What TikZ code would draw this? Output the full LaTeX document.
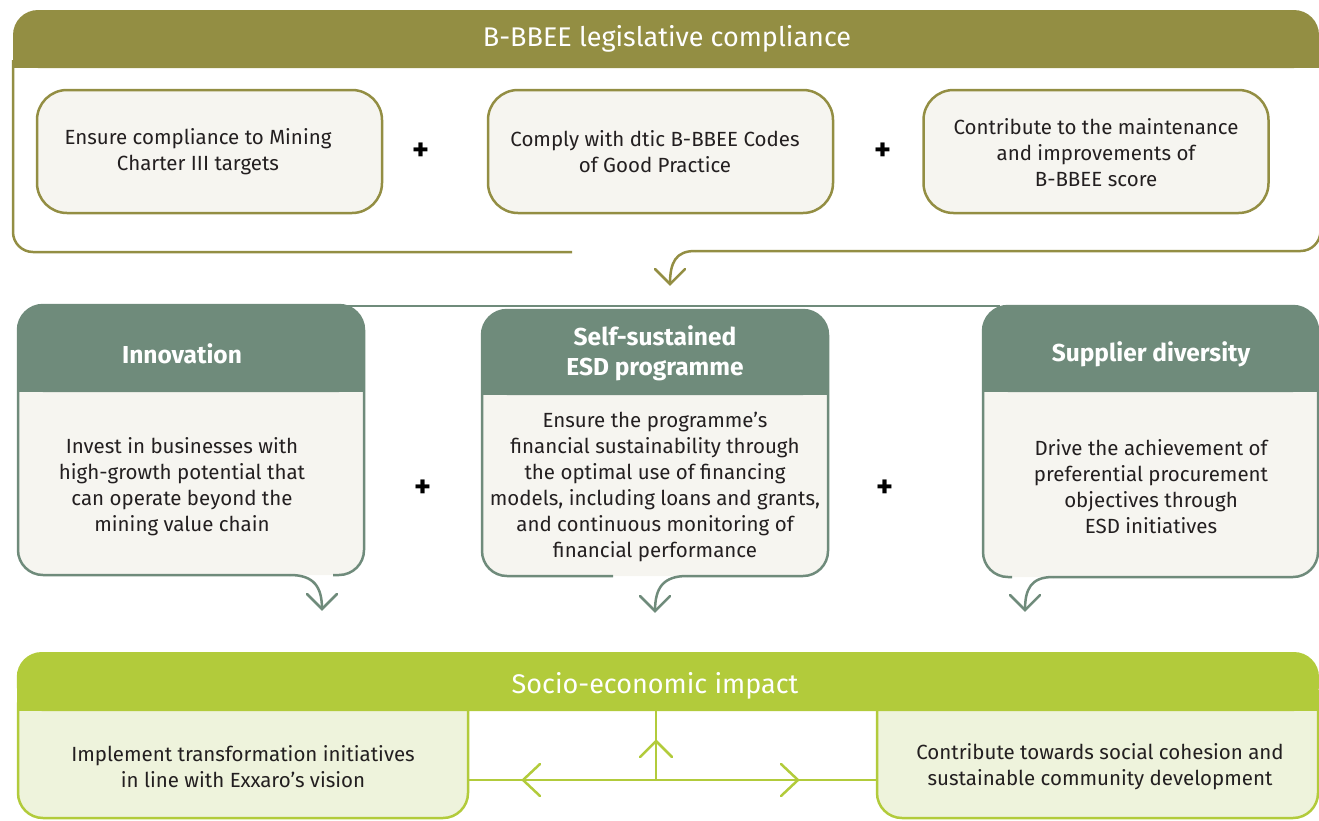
\documentclass[tikz,border=0pt]{standalone}
\usepackage{fontspec}
\setmainfont{Fira Sans}
\definecolor{olive}{HTML}{938E43}
\definecolor{boxfill}{HTML}{F6F5F0}
\definecolor{sage}{HTML}{6F8B7B}
\definecolor{lime}{HTML}{B2CB3B}
\definecolor{limefill}{HTML}{EEF3DC}
\definecolor{ink}{HTML}{231F20}
\begin{document}
\begin{tikzpicture}[x=1pt,y=-1pt,line join=round,
  oliveline/.style={draw=olive,line width=2.5pt},
  sageline/.style={draw=sage,line width=2.5pt},
  limeline/.style={draw=lime,line width=2.5pt},
  chevron/.style={line width=2.5pt,line cap=round,line join=miter},
  body/.style={font=\fontsize{20.5}{26}\selectfont,text=ink,align=center,inner sep=0pt},
  bigtitle/.style={font=\fontsize{27}{30}\selectfont,text=white,align=center,inner sep=0pt},
  midhead/.style={font=\bfseries\fontsize{24.5}{30}\selectfont,text=white,align=center,inner sep=0pt},
  obox/.style={draw=olive,line width=2.5pt,fill=boxfill,rounded corners=30pt,minimum width=345pt,minimum height=123pt,inner sep=0pt},
  plus/.style={font=\bfseries\fontsize{32}{32}\selectfont,text=black,inner sep=0pt}]
\useasboundingbox (0,0) rectangle (1319,820);

% ===== Top section =====
\fill[olive,rounded corners=25pt] (13,10) rectangle (1319,68);
\fill[olive] (13,45) rectangle (1319,68);
\node[bigtitle] (ttop) at (667,39) {B-BBEE legislative compliance};
\coordinate (fl1) at (13,60);
\coordinate (fl2) at (572,252);
\coordinate (fr1) at (1320.5,60);
\coordinate (fr2) at (695,251);
\coordinate (ta) at (670,284);
\draw[oliveline,rounded corners=20pt] (fl1) -- (13,252) -- (fl2);
\draw[oliveline,rounded corners=20pt] (fr1) -- (1320.5,251) -- (fr2);
\draw[oliveline] (fr2) .. controls (676,251) and (670,262) .. (ta);
\draw[olive,chevron] (655,269) -- (ta) -- (685,269);

\node[obox] (c1) at (209.5,151.5) {};
\node[obox] (c2) at (660.5,151.5) {};
\node[obox] (c3) at (1096,151.5) {};
\node[body] (c1t) at (198,152) {Ensure compliance to Mining\\Charter III targets};
\node[body] (c2t) at (655,152) {Comply with dtic B-BBEE Codes\\of Good Practice};
\node[body] (c3t) at (1096,153) {Contribute to the maintenance\\and improvements of\\B-BBEE score};
\node[plus] (p1) at (421,152) {+};
\node[plus] (p2) at (883,152) {+};

% ===== Middle section =====
\coordinate (ml1) at (340,306);
\coordinate (ml2) at (1000,306);
\draw[sageline] (ml1) -- (ml2);

% box 1
\fill[boxfill,rounded corners=25pt] (18,305) rectangle (364,575);
\fill[sage,rounded corners=25pt] (18,305) rectangle (364,392);
\fill[sage] (18,370) rectangle (364,392);
\coordinate (m1a) at (290,575);
\coordinate (m1t) at (322,609);
\draw[sageline,rounded corners=25pt] (m1a) -- (18,575) -- (18,305) -- (364,305) -- (364,575) -- (333,575);
\draw[sageline] (m1a) .. controls (314,575) and (322,587) .. (m1t);
\draw[sage,chevron] (307,594) -- (m1t) -- (337,594);
\node[midhead] (h1) at (182,354) {Innovation};
\node[body] (b1) at (182,487) {Invest in businesses with\\high-growth potential that\\can operate beyond the\\mining value chain};

% box 2
\fill[boxfill,rounded corners=25pt] (482,310) rectangle (828,576);
\fill[sage,rounded corners=25pt] (482,310) rectangle (828,395);
\fill[sage] (482,370) rectangle (828,395);
\coordinate (m2a) at (687,576);
\coordinate (m2t) at (655,611);
\draw[sageline,rounded corners=25pt] (613,576) -- (482,576) -- (482,310) -- (828,310) -- (828,576) -- (m2a);
\draw[sageline] (m2a) .. controls (663,576) and (655,588) .. (m2t);
\draw[sage,chevron] (640,596) -- (m2t) -- (670,596);
\node[midhead] (h2) at (655,353) {Self-sustained\\ESD programme};
\node[body] (b2) at (655,487) {Ensure the programme’s\\financial sustainability through\\the optimal use of financing\\models, including loans and grants,\\and continuous monitoring of\\financial performance};

% box 3
\fill[boxfill,rounded corners=25pt] (983,306) rectangle (1318,577);
\fill[sage,rounded corners=25pt] (983,306) rectangle (1318,392);
\fill[sage] (983,370) rectangle (1318,392);
\coordinate (m3a) at (1053,577);
\coordinate (m3t) at (1025,610);
\draw[sageline,rounded corners=25pt] (1012,577) -- (983,577) -- (983,306) -- (1318,306) -- (1318,577) -- (m3a);
\draw[sageline] (m3a) .. controls (1031,577) and (1025,589) .. (m3t);
\draw[sage,chevron] (1010,595) -- (m3t) -- (1040,595);
\node[midhead] (h3) at (1151,354) {Supplier diversity};
\node[body] (b3) at (1151,487) {Drive the achievement of\\preferential procurement\\objectives through\\ESD initiatives};

\node[plus] (p3) at (423,489) {+};
\node[plus] (p4) at (885,489) {+};

% ===== Bottom section =====
\filldraw[limeline,fill=limefill,rounded corners=25pt] (18,680) rectangle (468,818);
\filldraw[limeline,fill=limefill,rounded corners=25pt] (877,680) rectangle (1318,818);
\fill[lime,rounded corners=25pt] (16.75,652) rectangle (1319,711);
\fill[lime] (16.75,690) rectangle (1319,711);
\node[bigtitle] (tbot) at (655,686) {Socio-economic impact};
\node[body] (bl) at (243,767) {Implement transformation initiatives\\in line with Exxaro’s vision};
\node[body] (br) at (1100,767) {Contribute towards social cohesion and\\sustainable community development};

\coordinate (hl) at (468,780);
\coordinate (hr) at (877,780);
\coordinate (hm) at (656,780);
\coordinate (vt) at (656,710);
\draw[limeline] (hl) -- (hr);
\draw[limeline] (hm) -- (vt);
\draw[lime,chevron] (540,764) -- (523,780) -- (540,796);
\draw[lime,chevron] (781,764) -- (798,780) -- (781,796);
\draw[lime,chevron] (640,757) -- (656,741) -- (672,757);
\end{tikzpicture}
\end{document}
